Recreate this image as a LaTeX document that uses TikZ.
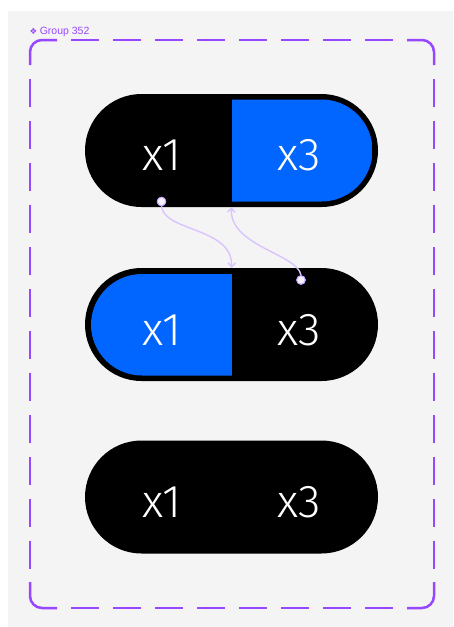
\documentclass[tikz,border=0pt]{standalone}
\usepackage{fontspec}
\usetikzlibrary{arrows.meta,shapes.misc}
\newfontfamily\pillfont{Fira Sans Light}
\newfontfamily\labelfont{Liberation Sans}
\newfontfamily\symfont{DejaVu Sans}
\definecolor{canvas}{HTML}{F4F4F4}
\definecolor{frame}{HTML}{9747FF}
\definecolor{pillblue}{HTML}{0066FF}
\definecolor{link}{HTML}{D9C4FF}
\definecolor{dotfill}{HTML}{F6F0FF}
\definecolor{dotrim}{HTML}{C7A6FF}
\begin{document}
\begin{tikzpicture}[x=1pt,y=-1pt,
  pill/.style={rounded rectangle, fill=black, inner sep=0pt,
    minimum width=293pt, minimum height=113pt},
  digits/.style={anchor=base, text=white, inner sep=0pt,
    font=\pillfont\fontsize{46}{46}\selectfont},
  framestroke/.style={draw=frame, line width=2.5pt},
  framedash/.style={framestroke, dash pattern=on 28pt off 14pt},
  link/.style={draw=link, line width=1.4pt,
    -{Straight Barb[length=4pt,width=7.5pt]}},
  handle/.style={circle, fill=dotfill, draw=dotrim, line width=0.9pt,
    minimum size=8.5pt, inner sep=0pt}]

% page and canvas
\useasboundingbox (0,0) rectangle (453,627);
\fill[white] (0,0) rectangle (453,627);
\fill[canvas] (8,10.5) rectangle (453,627);

% group frame: solid corners, dashed straight runs
\draw[framestroke, rounded corners=12pt] (30,65) -- (30,40) -- (57,40);
\draw[framestroke, rounded corners=12pt] (407,40) -- (434,40) -- (434,65);
\draw[framestroke, rounded corners=12pt] (30,582) -- (30,608) -- (57,608);
\draw[framestroke, rounded corners=12pt] (407,608) -- (434,608) -- (434,582);
\draw[framedash] (71,40) -- (393,40);
\draw[framedash] (71,608) -- (393,608);
\draw[framedash] (30,79) -- (30,569);
\draw[framedash] (434,79) -- (434,569);

\node[anchor=base west, inner sep=0pt, text=frame] (grp) at (29.5,34.5)
  {{\symfont\fontsize{8.5}{8.5}\selectfont ❖}\hspace{2.5pt}{\labelfont\fontsize{10.5}{10.5}\selectfont Group 352}};

% top pill: right half selected
\node[pill] (top) at (231.5,150.5) {};
\begin{scope}
  \clip[rounded corners=51pt] (90.5,99.5) rectangle (372.5,201.5);
  \fill[pillblue] (232,99) rectangle (373,202);
\end{scope}
\node[digits] (top1) at (162,170.5) {x1};
\node[digits] (top3) at (299,170.5) {x3};

% middle pill: left half selected
\node[pill] (mid) at (231.5,324.5) {};
\begin{scope}
  \clip[rounded corners=51pt] (91,274) rectangle (372.5,375.5);
  \fill[pillblue] (90,273) rectangle (232,376);
\end{scope}
\node[digits] (mid1) at (162,345) {x1};
\node[digits] (mid3) at (299,345) {x3};

% bottom pill
\node[pill] (bot) at (231.5,497) {};
\node[digits] (bot1) at (162,517) {x1};
\node[digits] (bot3) at (299,517) {x3};

% swap links
\node[handle] (h1) at (161.5,201.5) {};
\node[handle] (h2) at (301,280) {};
\draw[link] (h1.south) .. controls (164,232) and (233,227) .. (mid.north);
\draw[link] (h2.north) .. controls (298,254) and (229,246) .. (top.south);
\node[handle] at (h1) {};
\node[handle] at (h2) {};
\end{tikzpicture}
\end{document}
